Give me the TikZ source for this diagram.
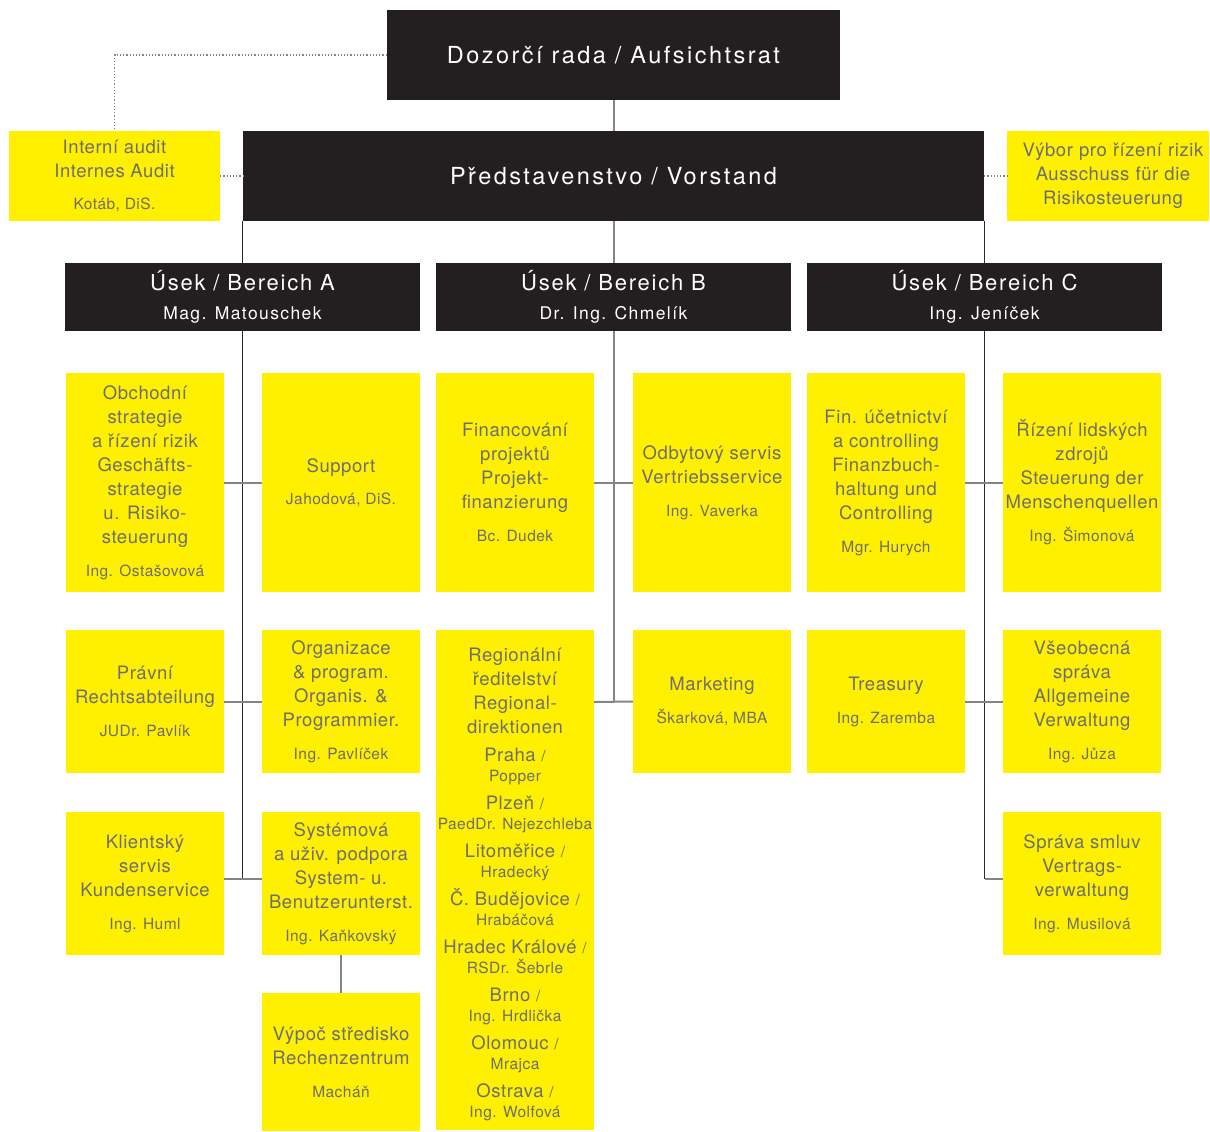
\documentclass[tikz,border=0pt]{standalone}
\usepackage{fontspec}
\setmainfont{TeX Gyre Heros}
\newfontfamily\yfnt[LetterSpace=3]{TeX Gyre Heros}
\newfontfamily\tfnt[LetterSpace=8]{TeX Gyre Heros}
\newfontfamily\topfnt[LetterSpace=10.5]{TeX Gyre Heros}
\definecolor{dk}{HTML}{231F20}
\definecolor{yl}{HTML}{FFF000}
\definecolor{tx}{HTML}{6D6E71}
\definecolor{ln}{HTML}{858585}
\definecolor{lnd}{HTML}{2A2A2A}
\newcommand\ynm[1]{{\fontsize{15.5}{24}\selectfont #1}}
\newcommand\unm[1]{{\fontsize{17.5}{24}\selectfont #1}}
\tikzset{
  dbox/.style={fill=dk, text=white, inner sep=0pt, align=center, font=\topfnt\fontsize{23.5}{28}\selectfont},
  ubox/.style={fill=dk, text=white, inner sep=0pt, align=center, font=\tfnt\fontsize{22}{24}\selectfont, minimum width=355, minimum height=68},
  ybox/.style={fill=yl, text=tx, inner sep=0pt, align=center, font=\yfnt\fontsize{18.5}{24}\selectfont, minimum width=158},
  hl/.style={draw=ln, line width=2pt},
  vl/.style={draw=lnd, line width=1.3pt},
  dl/.style={draw=ln, line width=1.2pt, dotted}
}
\begin{document}
\begin{tikzpicture}[x=1pt, y=-1pt]
\useasboundingbox (0,0) rectangle (1210,1132);
% top level
\node[dbox, minimum width=453, minimum height=90] (dozor) at (613.5,55) {Dozorčí rada / Aufsichtsrat};
\node[dbox, minimum width=741, minimum height=90] (vorst) at (613.5,176) {Představenstvo / Vorstand};
\node[ybox, minimum width=211, minimum height=90] (audit) at (114.5,176) {Interní audit\\Internes Audit\\[8pt]\ynm{Kotáb, DiS.}};
\node[ybox, minimum width=202, minimum height=90, text width=202, align=center] (vybor) at (1108,176) {\hspace*{10pt}Výbor pro řízení rizik\\\hspace*{10pt}Ausschuss für die\\\hspace*{10pt}Risikosteuerung};
% divisions
\node[ubox] (usekA) at (242.5,297) {Úsek / Bereich A\\[5pt]\unm{Mag. Matouschek}};
\node[ubox] (usekB) at (613.5,297) {Úsek / Bereich B\\[5pt]\unm{Dr. Ing. Chmelík}};
\node[ubox] (usekC) at (984.5,297) {Úsek / Bereich C\\[5pt]\unm{Ing. Jeníček}};
% column A
\node[ybox, minimum height=219] (obch) at (145,482.5) {Obchodní\\strategie\\a řízení rizik\\Geschäfts-\\strategie\\u. Risiko-\\steuerung\\[9pt]\ynm{Ing. Ostašovová}};
\node[ybox, minimum height=219] (supp) at (341,482.5) {Support\\[8pt]\ynm{Jahodová, DiS.}};
\node[ybox, minimum height=143] (prav) at (145,701.5) {Právní\\Rechtsabteilung\\[9pt]\ynm{JUDr. Pavlík}};
\node[ybox, minimum height=143] (orga) at (341,701.5) {Organizace\\\& program.\\Organis. \&\\Programmier.\\[9pt]\ynm{Ing. Pavlíček}};
\node[ybox, minimum height=143] (klie) at (145,883.5) {Klientský\\servis\\Kundenservice\\[9pt]\ynm{Ing. Huml}};
\node[ybox, minimum height=143] (syst) at (341,883.5) {Systémová\\a uživ. podpora\\System- u.\\Benutzerunterst.\\[9pt]\ynm{Ing. Kaňkovský}};
\node[ybox, minimum height=138] (vypo) at (341,1062) {Výpoč středisko\\Rechenzentrum\\[9pt]\ynm{Macháň}};
% column B
\node[ybox, minimum height=219] (fina) at (515,482.5) {Financování\\projektů\\Projekt-\\finanzierung\\[9pt]\ynm{Bc. Dudek}};
\node[ybox, minimum height=219] (odby) at (712,482.5) {Odbytový servis\\Vertriebsservice\\[9pt]\ynm{Ing. Vaverka}};
\node[ybox, minimum height=500] (regi) at (515,880) {\rule{0pt}{23pt}Regionální\\ředitelství\\Regional-\\direktionen\\[4pt]Praha \ynm{/}\\[-4pt]\ynm{Popper}\\[4pt]Plzeň \ynm{/}\\[-4pt]\ynm{PaedDr. Nejezchleba}\\[4pt]Litoměřice \ynm{/}\\[-4pt]\ynm{Hradecký}\\[4pt]Č. Budějovice \ynm{/}\\[-4pt]\ynm{Hrabáčová}\\[4pt]Hradec Králové \ynm{/}\\[-4pt]\ynm{RSDr. Šebrle}\\[4pt]Brno \ynm{/}\\[-4pt]\ynm{Ing. Hrdlička}\\[4pt]Olomouc \ynm{/}\\[-4pt]\ynm{Mrajca}\\[4pt]Ostrava \ynm{/}\\[-4pt]\ynm{Ing. Wolfová}};
\node[ybox, minimum height=143] (mark) at (712,701.5) {Marketing\\[9pt]\ynm{Škarková, MBA}};
% column C
\node[ybox, minimum height=219] (ucet) at (886,482.5) {Fin. účetnictví\\a controlling\\Finanzbuch-\\haltung und\\Controlling\\[9pt]\ynm{Mgr. Hurych}};
\node[ybox, minimum height=219] (rize) at (1082,482.5) {Řízení lidských\\zdrojů\\Steuerung der\\Menschenquellen\\[9pt]\ynm{Ing. Šimonová}};
\node[ybox, minimum height=143] (trea) at (886,701.5) {Treasury\\[9pt]\ynm{Ing. Zaremba}};
\node[ybox, minimum height=143] (vseo) at (1082,701.5) {Všeobecná\\správa\\Allgemeine\\Verwaltung\\[9pt]\ynm{Ing. Jůza}};
\node[ybox, minimum height=143] (smlu) at (1082,883.5) {Správa smluv\\Vertrags-\\verwaltung\\[9pt]\ynm{Ing. Musilová}};
% coordinates
\coordinate (aEnd) at (242.5,879);
\coordinate (bEnd) at (613.5,702);
\coordinate (cEnd) at (984.5,879);
% connectors
\draw[dl] (dozor.west) -| (audit.north);
\draw[dl] (audit.east) -- (vorst.west);
\draw[dl] (vorst.east) -- (vybor.west);
\draw[hl] (dozor.south) -- (vorst.north);
\draw[vl] (usekA.north |- vorst.south) -- (usekA.north);
\draw[hl] (vorst.south) -- (usekB.north);
\draw[vl] (usekC.north |- vorst.south) -- (usekC.north);
\draw[vl] (usekA.south) -- (aEnd);
\draw[hl] (usekB.south) -- (bEnd);
\draw[vl] (usekC.south) -- (cEnd);
\draw[hl] (obch.east) -- (supp.west);
\draw[hl] (prav.east) -- (orga.west);
\draw[hl] ([yshift=4.5pt]klie.east) -- ([yshift=4.5pt]syst.west);
\draw[hl] (syst.south) -- (vypo.north);
\draw[hl] (fina.east) -- (odby.west);
\draw[hl] ([yshift=178pt]regi.east) -- (mark.west);
\draw[hl] (ucet.east) -- (rize.west);
\draw[hl] (trea.east) -- (vseo.west);
\draw[hl] (cEnd) -- ([yshift=4.5pt]smlu.west);
\end{tikzpicture}
\end{document}
